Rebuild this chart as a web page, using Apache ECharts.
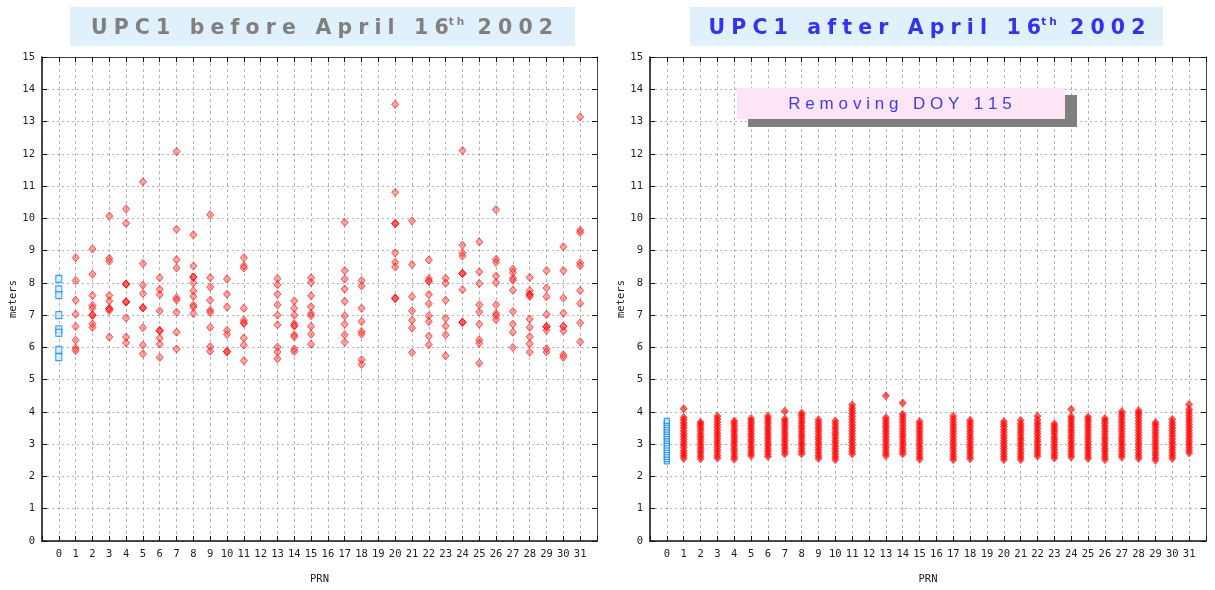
<!DOCTYPE html>
<html>
<head>
<meta charset="utf-8">
<script src="https://cdn.jsdelivr.net/npm/echarts@6/dist/echarts.min.js"></script>
<style>
  html, body { margin: 0; padding: 0; background: #fff; }
  #canvas { width: 1215px; height: 590px; }
</style>
</head>
<body>
<div id="canvas"></div>
<script>
// PRN 0 (blue squares) before / after
var beforeBlue0 = [8.12, 7.8, 7.62, 7.0, 6.56, 6.45, 5.92, 5.7];
var afterBlue0 = [2.47, 2.54, 2.61, 2.68, 2.75, 2.82, 2.89, 2.96, 3.03, 3.1, 3.17, 3.24, 3.31, 3.38, 3.45, 3.52, 3.59, 3.66, 3.72];

// satellites with data (12, 16, 19 have none)
var prnList = [1, 2, 3, 4, 5, 6, 7, 8, 9, 10, 11, 13, 14, 15, 17, 18, 20, 21, 22, 23, 24, 25, 26, 27, 28, 29, 30, 31];

// before April 16th, meters per PRN (same order as prnList)
var beforeValues = [
  [8.78, 8.07, 7.46, 7.03, 6.65, 6.22, 5.98, 5.9],
  [9.05, 8.27, 7.61, 7.3, 7.21, 7.0, 7.0, 7.0, 6.73, 6.62],
  [10.07, 8.76, 8.67, 7.61, 7.44, 7.2, 7.2, 7.2, 7.14, 6.32],
  [10.29, 9.85, 7.96, 7.96, 7.96, 7.41, 7.41, 7.41, 6.91, 6.32, 6.14],
  [11.13, 8.6, 7.93, 7.67, 7.23, 7.23, 7.23, 6.61, 6.07, 5.8],
  [8.16, 7.8, 7.64, 7.13, 6.52, 6.52, 6.52, 6.29, 6.1, 5.69],
  [12.07, 9.66, 8.72, 8.46, 7.54, 7.47, 7.09, 6.47, 5.95],
  [9.49, 8.52, 8.18, 8.18, 8.18, 8.0, 7.75, 7.58, 7.31, 7.25, 7.05],
  [10.11, 8.16, 7.87, 7.46, 7.15, 7.09, 6.62, 6.02, 5.88],
  [8.12, 7.65, 7.25, 6.53, 6.4, 5.87, 5.87, 5.87],
  [8.78, 8.53, 8.46, 7.21, 6.84, 6.75, 6.75, 6.29, 6.07, 5.59],
  [8.13, 7.94, 7.65, 7.32, 7.0, 6.7, 6.01, 5.86, 5.65],
  [7.44, 7.21, 7.0, 6.74, 6.67, 6.67, 6.39, 6.33, 5.95, 5.87],
  [8.16, 8.01, 7.6, 7.26, 7.05, 6.98, 6.65, 6.41, 6.1],
  [9.88, 8.38, 8.12, 7.81, 7.43, 6.98, 6.72, 6.39, 6.16],
  [8.07, 7.9, 7.21, 6.8, 6.49, 6.41, 5.62, 5.47],
  [13.53, 10.81, 9.84, 9.84, 9.84, 8.93, 8.64, 8.49, 7.52, 7.52, 7.52],
  [9.92, 8.57, 7.57, 7.13, 6.84, 6.6, 5.84],
  [8.71, 8.13, 8.05, 8.05, 7.64, 7.35, 6.98, 6.8, 6.35, 6.08],
  [8.14, 7.99, 7.46, 6.9, 6.66, 6.39, 5.74],
  [12.1, 9.17, 8.93, 8.83, 8.29, 8.29, 8.29, 7.79, 6.78, 6.78, 6.78],
  [9.27, 8.34, 7.98, 7.32, 7.1, 6.72, 6.23, 6.13, 5.51],
  [10.27, 8.73, 8.64, 8.21, 8.01, 7.32, 7.05, 6.98, 6.86],
  [8.43, 8.32, 8.14, 8.08, 7.77, 7.11, 6.72, 6.47, 6.0],
  [8.17, 7.76, 7.64, 7.64, 7.64, 7.58, 6.88, 6.62, 6.33, 6.11, 5.85],
  [8.38, 7.84, 7.57, 7.02, 6.64, 6.64, 6.64, 6.53, 5.96, 5.86],
  [9.12, 8.38, 7.53, 7.06, 6.65, 6.65, 6.51, 5.77, 5.69],
  [13.14, 9.63, 9.56, 8.62, 8.53, 7.76, 7.36, 6.76, 6.17]
];

// after April 16th (DOY 115 removed), meters per PRN
var afterValues = [
  [2.56, 2.64, 2.72, 2.8, 2.9, 2.98, 3.06, 3.15, 3.24, 3.32, 3.41, 3.5, 3.58, 3.66, 3.75, 3.83, 4.1],
  [2.55, 2.63, 2.72, 2.8, 2.88, 2.97, 3.05, 3.14, 3.22, 3.3, 3.39, 3.47, 3.55, 3.62, 3.68],
  [2.57, 2.65, 2.74, 2.82, 2.91, 3.0, 3.08, 3.17, 3.26, 3.34, 3.43, 3.52, 3.6, 3.69, 3.78, 3.87],
  [2.53, 2.61, 2.7, 2.79, 2.87, 2.96, 3.05, 3.13, 3.22, 3.3, 3.39, 3.47, 3.56, 3.64, 3.72],
  [2.64, 2.72, 2.8, 2.89, 2.97, 3.06, 3.14, 3.23, 3.31, 3.4, 3.48, 3.56, 3.64, 3.72, 3.8],
  [2.62, 2.7, 2.79, 2.87, 2.96, 3.04, 3.13, 3.21, 3.3, 3.38, 3.47, 3.55, 3.64, 3.72, 3.8, 3.87],
  [2.7, 2.78, 2.87, 2.95, 3.04, 3.12, 3.21, 3.3, 3.38, 3.47, 3.55, 3.63, 3.71, 3.78, 4.02],
  [2.7, 2.78, 2.87, 2.96, 3.04, 3.13, 3.22, 3.3, 3.39, 3.48, 3.56, 3.65, 3.73, 3.82, 3.9, 3.97],
  [2.56, 2.64, 2.73, 2.81, 2.9, 2.99, 3.07, 3.16, 3.24, 3.33, 3.42, 3.5, 3.59, 3.67, 3.76],
  [2.52, 2.6, 2.69, 2.77, 2.86, 2.94, 3.03, 3.11, 3.2, 3.29, 3.37, 3.46, 3.54, 3.63, 3.72],
  [2.7, 2.78, 2.87, 2.96, 3.05, 3.14, 3.23, 3.32, 3.41, 3.5, 3.59, 3.68, 3.77, 3.86, 3.95, 4.04, 4.12, 4.22],
  [2.64, 2.72, 2.81, 2.9, 2.98, 3.07, 3.15, 3.24, 3.33, 3.41, 3.5, 3.58, 3.66, 3.74, 3.82, 4.5],
  [2.7, 2.78, 2.87, 2.96, 3.05, 3.14, 3.23, 3.31, 3.4, 3.49, 3.58, 3.67, 3.76, 3.85, 3.93, 4.28],
  [2.53, 2.61, 2.7, 2.78, 2.87, 2.95, 3.04, 3.12, 3.21, 3.29, 3.38, 3.46, 3.54, 3.62, 3.7],
  [2.52, 2.6, 2.69, 2.78, 2.87, 2.96, 3.05, 3.14, 3.23, 3.32, 3.41, 3.5, 3.59, 3.68, 3.77, 3.87],
  [2.55, 2.63, 2.72, 2.8, 2.89, 2.97, 3.06, 3.15, 3.23, 3.32, 3.4, 3.49, 3.57, 3.66, 3.74],
  [2.52, 2.6, 2.69, 2.77, 2.86, 2.94, 3.03, 3.11, 3.2, 3.28, 3.37, 3.45, 3.54, 3.62, 3.7],
  [2.52, 2.6, 2.69, 2.77, 2.86, 2.95, 3.03, 3.12, 3.2, 3.29, 3.38, 3.46, 3.55, 3.63, 3.74],
  [2.63, 2.71, 2.8, 2.88, 2.97, 3.06, 3.14, 3.23, 3.32, 3.4, 3.49, 3.58, 3.66, 3.75, 3.87],
  [2.57, 2.65, 2.73, 2.82, 2.9, 2.98, 3.07, 3.15, 3.23, 3.32, 3.4, 3.48, 3.56, 3.63],
  [2.6, 2.68, 2.77, 2.85, 2.94, 3.02, 3.11, 3.2, 3.28, 3.37, 3.45, 3.54, 3.62, 3.7, 3.78, 3.86, 4.08],
  [2.56, 2.64, 2.73, 2.82, 2.9, 2.99, 3.08, 3.17, 3.25, 3.34, 3.43, 3.52, 3.6, 3.69, 3.77, 3.84],
  [2.52, 2.6, 2.69, 2.78, 2.86, 2.95, 3.04, 3.13, 3.21, 3.3, 3.39, 3.48, 3.56, 3.65, 3.73, 3.8],
  [2.6, 2.68, 2.77, 2.86, 2.95, 3.04, 3.13, 3.22, 3.31, 3.4, 3.49, 3.58, 3.67, 3.76, 3.85, 3.93, 4.01],
  [2.56, 2.64, 2.73, 2.82, 2.91, 3.0, 3.09, 3.18, 3.27, 3.36, 3.45, 3.54, 3.63, 3.72, 3.81, 3.9, 3.97, 4.04],
  [2.5, 2.58, 2.67, 2.75, 2.84, 2.92, 3.01, 3.09, 3.18, 3.26, 3.35, 3.43, 3.52, 3.6, 3.67],
  [2.56, 2.64, 2.73, 2.81, 2.9, 2.99, 3.07, 3.16, 3.25, 3.33, 3.42, 3.5, 3.59, 3.67, 3.77],
  [2.73, 2.81, 2.9, 2.99, 3.08, 3.17, 3.26, 3.35, 3.44, 3.53, 3.62, 3.71, 3.8, 3.89, 3.98, 4.08, 4.23]
];

var titleLeft = ['UPC1 before April 16', 'th', ' 2002'];
var titleRight = ['UPC1 after April 16', 'th', ' 2002'];
var noteText = 'Removing DOY 115';

// spread letters out like the original slide
let spaced = function (s) { return s.split('').join('\u2009\u200A'); };

let toPoints = function (prns, values) {
    var pts = [];
    prns.forEach(function (p, i) {
        values[i].forEach(function (v) { pts.push([p, v]); });
    });
    return pts;
};

var dom = document.getElementById("canvas");
var myChart = echarts.init(dom);

var labelFont = { fontFamily: 'DejaVu Sans Mono', fontSize: 10.5, color: '#222' };
var gridColor = '#b4b4b4';

let makeX = function (gi, top) {
    return {
        gridIndex: gi,
        type: 'value',
        position: top ? 'top' : 'bottom',
        min: -1, max: 32, interval: 1,
        name: top ? '' : 'PRN',
        nameLocation: 'middle',
        nameGap: 33,
        nameTextStyle: labelFont,
        axisLine: { onZero: false, lineStyle: { color: top ? '#444' : '#111', width: top ? 1 : 1.5 } },
        axisTick: { inside: true, length: 5, lineStyle: { color: '#111' } },
        axisLabel: top ? { show: false } : Object.assign({
            margin: 8,
            formatter: function (v) { return (v < 0 || v > 31) ? '' : String(v); }
        }, labelFont),
        splitLine: top ? { show: false } : { show: true, lineStyle: { color: gridColor, type: [3, 3] } }
    };
};

let makeY = function (gi, right) {
    return {
        gridIndex: gi,
        type: 'value',
        position: right ? 'right' : 'left',
        min: 0, max: 15, interval: 1,
        name: right ? '' : 'meters',
        nameLocation: 'middle',
        nameRotate: 90,
        nameGap: 20,
        nameTextStyle: labelFont,
        axisLine: { show: true, onZero: false, lineStyle: { color: right ? '#444' : '#111', width: right ? 1 : 1.5 } },
        axisTick: { inside: true, length: 5, lineStyle: { color: '#111' } },
        axisLabel: right ? { show: false } : Object.assign({ margin: 7 }, labelFont),
        splitLine: right ? { show: false } : { show: true, lineStyle: { color: gridColor, type: [2, 3] } }
    };
};

var redStyle = { color: 'rgba(255,70,70,0.6)', borderColor: '#ff0000', borderWidth: 0.8 };
var barStyle = { color: 'rgba(255,0,0,0.8)', borderColor: '#ff2020', borderWidth: 0.8 };
var blueStyle = { color: '#d4ebff', borderColor: '#1a8cf0', borderWidth: 1.2 };

let titleGraphic = function (cx, parts, col) {
    return {
        type: 'text',
        x: cx, y: 29,
        style: {
            text: '{m|' + spaced(parts[0]) + '}{s|' + spaced(parts[1]) + '}{m|' + spaced(parts[2]) + '}',
            align: 'center', verticalAlign: 'middle',
            textAlign: 'center', textVerticalAlign: 'middle',
            rich: {
                m: { fontFamily: 'DejaVu Sans', fontWeight: 'bold', fontSize: 20.5, fill: col, color: col, lineHeight: 24 },
                s: { fontFamily: 'DejaVu Sans', fontWeight: 'bold', fontSize: 10.5, fill: col, color: col, verticalAlign: 'top', lineHeight: 24 }
            }
        }
    };
};

option = {
    animation: false,
    grid: [
        { left: 42, top: 57, width: 555, height: 487 },
        { left: 650, top: 57, width: 556, height: 487 }
    ],
    xAxis: [makeX(0, false), makeX(0, true), makeX(1, false), makeX(1, true)],
    yAxis: [makeY(0, false), makeY(0, true), makeY(1, false), makeY(1, true)],
    graphic: [
        { type: 'rect', shape: { x: 70, y: 7, width: 505, height: 39 }, style: { fill: '#e0f1fc' } },
        { type: 'rect', shape: { x: 690, y: 7, width: 473, height: 39 }, style: { fill: '#e0f1fc' } },
        titleGraphic(322, titleLeft, '#808080'),
        titleGraphic(927, titleRight, '#3333ee'),
        { type: 'rect', z: 10, shape: { x: 748, y: 95, width: 329, height: 32 }, style: { fill: '#808080' } },
        { type: 'rect', z: 11, shape: { x: 737, y: 88, width: 328, height: 31 }, style: { fill: '#fde5f5' } },
        {
            type: 'text', z: 12, x: 900, y: 104,
            style: {
                text: spaced(noteText), fill: '#3d3df0',
                font: '17px "Liberation Sans"',
                align: 'center', verticalAlign: 'middle',
                textAlign: 'center', textVerticalAlign: 'middle'
            }
        }
    ],
    series: [
        {
            name: 'before PRN0', type: 'scatter', xAxisIndex: 0, yAxisIndex: 0,
            symbol: 'rect', symbolSize: [6, 7], itemStyle: blueStyle,
            data: beforeBlue0.map(function (v) { return [0, v]; })
        },
        {
            name: 'before', type: 'scatter', xAxisIndex: 0, yAxisIndex: 0,
            symbol: 'diamond', symbolSize: [7, 8], itemStyle: redStyle,
            data: toPoints(prnList, beforeValues)
        },
        {
            name: 'after PRN0', type: 'scatter', xAxisIndex: 2, yAxisIndex: 2,
            symbol: 'rect', symbolSize: [5, 5], itemStyle: blueStyle,
            data: afterBlue0.map(function (v) { return [0, v]; })
        },
        {
            name: 'after', type: 'scatter', xAxisIndex: 2, yAxisIndex: 2,
            symbol: 'diamond', symbolSize: [7, 8], itemStyle: barStyle,
            data: toPoints(prnList, afterValues)
        }
    ]
};
if (option && typeof option === "object") {
    myChart.setOption(option, true);
}
</script>
</body>
</html>
